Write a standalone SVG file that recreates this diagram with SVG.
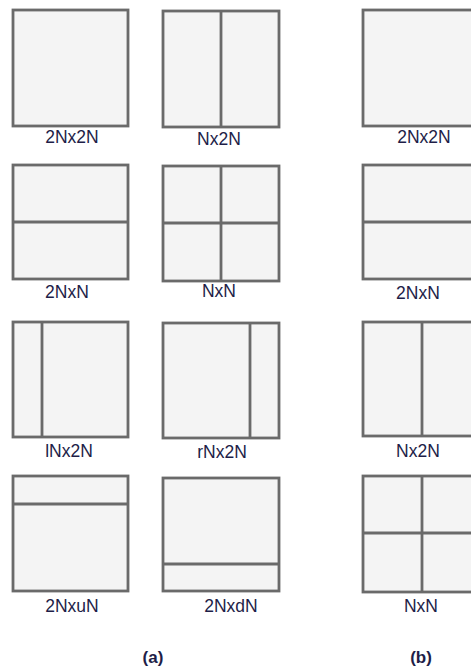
<svg xmlns="http://www.w3.org/2000/svg" width="471" height="667" viewBox="0 0 471 667">
<style>
.box{fill:#f4f4f4;stroke:#6a6a6a;stroke-width:2.8}
.div{stroke:#6a6a6a;stroke-width:2.8;fill:none}
.lbl{font-family:"Liberation Sans",Arial,sans-serif;font-size:17.5px;fill:#1e1e48;text-anchor:middle}
.cap{font-family:"Liberation Sans",Arial,sans-serif;font-size:17px;font-weight:bold;fill:#1e1e48;text-anchor:middle}
</style>
<rect width="471" height="667" fill="#ffffff"/>
<g id="a-2Nx2N"><rect class="box" x="13" y="10" width="115" height="116"/><text class="lbl" x="72" y="143">2Nx2N</text></g>
<g id="a-Nx2N"><rect class="box" x="163" y="11" width="116" height="116"/><line class="div" x1="221" y1="11" x2="221" y2="127"/><text class="lbl" x="219" y="145">Nx2N</text></g>
<g id="b-2Nx2N"><rect class="box" x="363" y="10" width="116" height="116"/><text class="lbl" x="424" y="143">2Nx2N</text></g>

<g id="a-2NxN"><rect class="box" x="13" y="165" width="115" height="114"/><line class="div" x1="13" y1="222" x2="128" y2="222"/><text class="lbl" x="67" y="298">2NxN</text></g>
<g id="a-NxN"><rect class="box" x="163" y="166" width="116" height="115"/><line class="div" x1="221" y1="166" x2="221" y2="281"/><line class="div" x1="163" y1="223" x2="279" y2="223"/><text class="lbl" x="219" y="297">NxN</text></g>
<g id="b-2NxN"><rect class="box" x="363" y="165" width="116" height="114"/><line class="div" x1="363" y1="222" x2="479" y2="222"/><text class="lbl" x="418" y="299">2NxN</text></g>

<g id="a-lNx2N"><rect class="box" x="13" y="322" width="115" height="115"/><line class="div" x1="42" y1="322" x2="42" y2="437"/><text class="lbl" x="69" y="457">lNx2N</text></g>
<g id="a-rNx2N"><rect class="box" x="163" y="323" width="116" height="115"/><line class="div" x1="250" y1="323" x2="250" y2="438"/><text class="lbl" x="222" y="458">rNx2N</text></g>
<g id="b-Nx2N"><rect class="box" x="363" y="322" width="116" height="114"/><line class="div" x1="422" y1="322" x2="422" y2="436"/><text class="lbl" x="418" y="457">Nx2N</text></g>

<g id="a-2NxuN"><rect class="box" x="13" y="476" width="115" height="115"/><line class="div" x1="13" y1="504" x2="128" y2="504"/><text class="lbl" x="72" y="612">2NxuN</text></g>
<g id="a-2NxdN"><rect class="box" x="163" y="478" width="116" height="113"/><line class="div" x1="163" y1="564" x2="279" y2="564"/><text class="lbl" x="231" y="612">2NxdN</text></g>
<g id="b-NxN"><rect class="box" x="363" y="476" width="116" height="116"/><line class="div" x1="422" y1="476" x2="422" y2="592"/><line class="div" x1="363" y1="533" x2="479" y2="533"/><text class="lbl" x="421" y="612">NxN</text></g>

<g id="connectors"></g>
<text class="cap" x="153" y="663">(a)</text>
<text class="cap" x="421" y="663">(b)</text>
</svg>
